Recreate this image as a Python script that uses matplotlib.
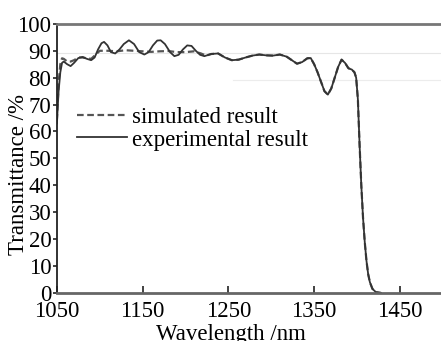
import matplotlib
matplotlib.use('Agg')
import matplotlib.pyplot as plt

# experimental (solid) curve
exp_nm = [1050, 1052, 1054, 1056, 1058, 1062, 1066, 1070, 1075, 1080, 1085, 1090,
          1094, 1098, 1102, 1105, 1109, 1113, 1118, 1123, 1128, 1134, 1140, 1146,
          1152, 1157, 1162, 1167, 1171, 1176, 1182, 1187, 1192, 1197, 1202, 1207,
          1212, 1217, 1222, 1230, 1238, 1246, 1254, 1262, 1270, 1278, 1286, 1294,
          1302, 1310, 1318, 1324, 1330, 1336, 1342, 1346, 1350, 1354, 1358, 1362,
          1366, 1370, 1374, 1378, 1382, 1386, 1390, 1394, 1397, 1399, 1401, 1403,
          1405, 1407, 1409, 1411, 1413, 1415, 1418, 1422, 1428]
exp_T = [63, 75, 82, 85.5, 86, 85, 84.3, 85.5, 87.3, 87.7, 87, 86.5,
         87.5, 90.5, 92.8, 93.3, 92, 89.5, 89, 90.5, 92.5, 93.9, 92.5, 89.5,
         88.6, 89.5, 92, 93.8, 93.9, 92.5, 89.5, 88, 88.5, 90.5, 92, 91.8,
         90, 88.5, 88, 88.8, 89, 87.5, 86.5, 86.7, 87.5, 88.2, 88.6, 88.3,
         88.2, 88.6, 87.8, 86.5, 85.2, 85.8, 87.2, 87.3, 85, 82, 78.5, 75,
         73.7, 76, 80, 84, 86.7, 85.5, 83.5, 83, 82, 80, 72, 55,
         40, 28, 19, 12, 7, 4, 1.5, 0.3, 0]

# simulated (dashed) curve
sim_nm = [1050, 1052, 1054, 1056, 1058, 1062, 1066, 1070, 1075, 1080, 1085, 1090,
          1095, 1100, 1110, 1120, 1130, 1140, 1150, 1160, 1170, 1180, 1190, 1200,
          1210, 1218, 1224, 1230, 1238, 1246, 1254, 1262, 1270, 1278, 1286, 1294,
          1302, 1310, 1318, 1324, 1330, 1336, 1342, 1346, 1350, 1354, 1358, 1362,
          1366, 1370, 1374, 1378, 1382, 1386, 1390, 1394, 1397, 1399, 1401, 1403,
          1405, 1407, 1409, 1411, 1413, 1415, 1418, 1422, 1428]
sim_T = [64, 78, 85, 87.2, 87, 86, 86, 86.5, 87.5, 87.5, 87.2, 87,
         88.5, 90, 90, 89.8, 90.2, 90, 89.8, 89.6, 89.8, 89.9, 89.5, 89.5,
         89.8, 89, 88.2, 88.8, 89, 87.5, 86.5, 86.7, 87.5, 88.2, 88.6, 88.3,
         88.2, 88.6, 87.8, 86.5, 85.2, 85.8, 87.2, 87.3, 85, 82, 78.5, 75,
         73.7, 76, 80, 84, 86.7, 85.5, 83.5, 83, 82, 80, 72, 55,
         40, 28, 19, 12, 7, 4, 1.5, 0.3, 0]

x_ticks = [1050, 1150, 1250, 1350, 1450]
y_ticks = [0, 10, 20, 30, 40, 50, 60, 70, 80, 90, 100]

plt.rcParams['font.family'] = ['Liberation Serif', 'DejaVu Serif']
plt.rcParams['font.size'] = 16.5

fig = plt.figure(figsize=(4.41, 3.41), dpi=100)
ax = fig.add_axes([0.129, 0.141, 0.875, 0.789])

# faint scan lines seen in the original
ax.axhline(89.3, color='#e6e6e6', lw=0.8, zorder=0)
ax.plot([1255, 1500], [79.2, 79.2], color='#ececec', lw=0.8, zorder=0)

ax.plot(sim_nm, sim_T, color='#555555', lw=1.6, ls=(0, (3, 1.6)), label='simulated result')
ax.plot(exp_nm, exp_T, color='#333333', lw=1.3, label='experimental result')

ax.set_xlim(1050, 1500)
ax.set_ylim(0, 100)
ax.set_xticks(x_ticks)
ax.set_yticks(y_ticks)

ax.spines['right'].set_visible(False)
ax.spines['top'].set_color('#777777')
ax.spines['top'].set_linewidth(2)
ax.spines['bottom'].set_color('#666666')
ax.spines['bottom'].set_linewidth(2)
ax.spines['left'].set_color('#222222')
ax.spines['left'].set_linewidth(1.3)

ax.tick_params(axis='x', direction='in', length=5, width=1.2, pad=6, colors='#222222')
ax.tick_params(axis='y', direction='out', length=3, width=1.2, pad=1, colors='#222222')
for lbl in ax.get_xticklabels() + ax.get_yticklabels():
    lbl.set_color('black')

ax.set_xlabel('Wavelength /nm')
ax.xaxis.set_label_coords(0.45, -0.115, transform=ax.transAxes)
ax.xaxis.label.set_va('top')
ax.set_ylabel('Transmittance /%')
ax.yaxis.set_label_coords(-0.072, 0.44, transform=ax.transAxes)

ax.legend(loc='upper left', bbox_to_anchor=(0.052, 0.69), frameon=False, borderpad=0,
          handlelength=2.2, handletextpad=0.2, labelspacing=0.05, borderaxespad=0)

fig.savefig('out.png', dpi=100)
